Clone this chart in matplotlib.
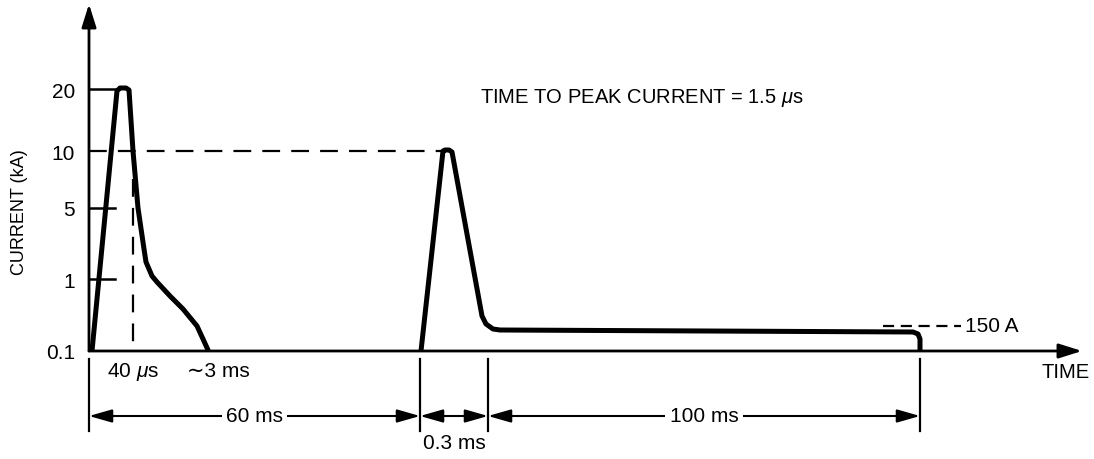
import matplotlib
matplotlib.use('Agg')
import matplotlib.pyplot as plt

#----- values (drawing units, origin at the axes corner) -----
level_labels = ['0.1', '1', '5', '10', '20']
level_pos = [0, 72, 143, 200, 262]

# first stroke : 20 kA peak, ~3 ms decay
stroke1_x = [2, 3, 28, 31, 37, 40, 44, 49, 55, 57, 63, 68, 81, 94, 108, 114, 119]
stroke1_y = [0, 0, 260, 263, 263, 261, 200, 143, 102, 89, 75, 69, 55, 42, 25, 12, 1]

# subsequent stroke : 10 kA peak, then 150 A continuing current
stroke2_x = [332, 354, 356, 360, 363, 393, 397, 404, 411, 824, 829, 831, 831]
stroke2_y = [0, 200, 201, 201, 199, 35, 27, 22, 21, 19, 17, 12, 0]

# dimension marks under the time axis
dim_marks = [0, 331, 399, 831]
dim_labels = ['60 ms', '0.3 ms', '100 ms']

plt.rcParams['font.family'] = ['Liberation Sans', 'DejaVu Sans']
plt.rcParams['font.size'] = 15
plt.rcParams['mathtext.fontset'] = 'custom'
plt.rcParams['mathtext.it'] = 'Liberation Sans:italic'
plt.rcParams['mathtext.rm'] = 'Liberation Sans'

fig = plt.figure(figsize=(10.94, 4.6), dpi=100)
ax = fig.add_axes([89/1094, 108/460, 993/1094, 347/460])
ax.set_xlim(0, 993)
ax.set_ylim(0, 347)
for s in ax.spines.values():
    s.set_visible(False)
ax.set_xticks([])
ax.set_yticks(level_pos, level_labels)
ax.tick_params(axis='y', length=0, pad=10, labelsize=15)
fig.text(20/1094, 1-212/460, 'CURRENT (kA)', rotation=90, ha='center', va='center', fontsize=13)

#----- axes with arrow heads -----
head = '-|>,head_length=0.7,head_width=0.22'
ax.annotate('', xy=(0, 347), xytext=(0, 0), annotation_clip=False,
            arrowprops=dict(arrowstyle=head, color='black', lw=2, mutation_scale=20, shrinkA=0, shrinkB=0))
ax.annotate('', xy=(993, 0), xytext=(0, 0), annotation_clip=False,
            arrowprops=dict(arrowstyle=head, color='black', lw=2, mutation_scale=20, shrinkA=0, shrinkB=0))

#----- level marks -----
ax.plot([0, 30], [level_pos[4]]*2, color='black', lw=1.8)
ax.plot([0, 26], [level_pos[2]]*2, color='black', lw=1.8)
ax.plot([0, 26], [level_pos[1]]*2, color='black', lw=1.8)
ax.plot([0, stroke2_x[1]], [level_pos[3]]*2, color='black', lw=1.6, linestyle=(0, (8, 5)))
ax.plot([44, 44], [172, 0], color='black', lw=1.6, linestyle=(0, (8, 5)))

#----- the two strokes -----
ax.plot(stroke1_x, stroke1_y, color='black', lw=3.6, solid_joinstyle='round', solid_capstyle='round')
ax.plot(stroke2_x, stroke2_y, color='black', lw=3.6, solid_joinstyle='round', solid_capstyle='round')

# 150 A level
ax.plot([794, 872], [25, 25], color='black', lw=1.6, linestyle=(0, (5, 3)))
ax.text(876, 25, '150 A', ha='left', va='center')

ax.text(391, 254, 'TIME TO PEAK CURRENT = 1.5 $\\mu$s', ha='left', va='center', fontsize=14.5)
ax.text(18, -20, '40 $\\mu$s', ha='left', va='center')
ax.text(98, -20, '\u223c3 ms', ha='left', va='center')
ax.text(953, -21, 'TIME', ha='left', va='center', fontsize=14.5)

#----- dimension lines -----
for xm in dim_marks:
    ax.plot([xm, xm], [-8, -80], color='black', lw=1.6, clip_on=False)
dhead = '<|-|>,head_length=0.7,head_width=0.2'
for i in range(len(dim_marks)-1):
    ax.annotate('', xy=(dim_marks[i+1], -65), xytext=(dim_marks[i], -65), annotation_clip=False,
                arrowprops=dict(arrowstyle=dhead, color='black', lw=1.5, mutation_scale=20, shrinkA=0, shrinkB=0))
mid0 = (dim_marks[0]+dim_marks[1])/2
mid1 = (dim_marks[1]+dim_marks[2])/2
mid2 = (dim_marks[2]+dim_marks[3])/2
ax.text(mid0, -65, dim_labels[0], ha='center', va='center',
        bbox=dict(facecolor='white', edgecolor='none', pad=3))
ax.text(mid1, -92, dim_labels[1], ha='center', va='center')
ax.text(mid2, -65, dim_labels[2], ha='center', va='center',
        bbox=dict(facecolor='white', edgecolor='none', pad=3))

fig.savefig('out.png', dpi=100)
